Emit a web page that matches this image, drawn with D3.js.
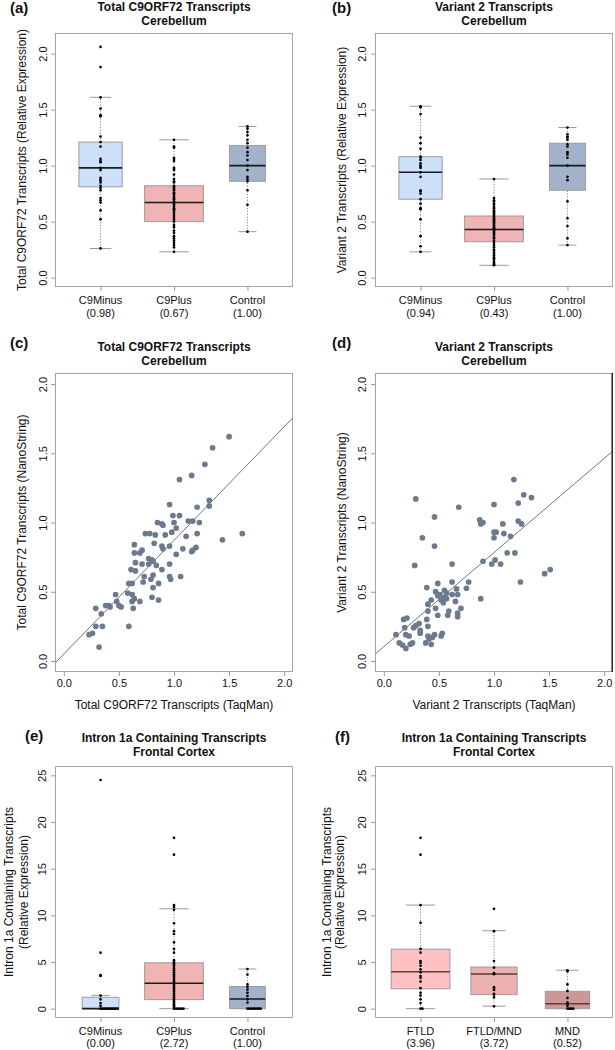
<!DOCTYPE html>
<html><head><meta charset="utf-8">
<script src="https://cdn.jsdelivr.net/npm/d3@7"></script>
<style>
body{margin:0;background:#fff}
svg{display:block}
text{font-family:"Liberation Sans",Arial,Helvetica,sans-serif;fill:#111}
</style>
</head><body>
<svg id="chart" width="615" height="1050"></svg>
<script>
// ---------------- DATA ----------------
const groupsCer = ["C9Minus", "C9Plus", "Control"];
const groupsF = ["FTLD", "FTLD/MND", "MND"];
const medianLabelsA = ["(0.98)", "(0.67)", "(1.00)"];
const medianLabelsB = ["(0.94)", "(0.43)", "(1.00)"];
const medianLabelsE = ["(0.00)", "(2.72)", "(1.00)"];
const medianLabelsF = ["(3.96)", "(3.72)", "(0.52)"];
const ticksRel = [0, 0.5, 1, 1.5, 2];
const ticksIntron = [0, 5, 10, 15, 20, 25];

// box statistics: [lower whisker, Q1, median, Q3, upper whisker]
const boxA = [[0.26, 0.81, 0.98, 1.21, 1.61], [0.23, 0.50, 0.67, 0.82, 1.23], [0.41, 0.86, 1.00, 1.18, 1.35]];
const boxB = [[0.23, 0.70, 0.94, 1.08, 1.53], [0.11, 0.32, 0.43, 0.55, 0.88], [0.29, 0.78, 1.00, 1.20, 1.34]];
const boxE = [[0, 0, 0, 1.22, 1.42], [0, 0.97, 2.72, 4.92, 10.7], [0, 0, 1.03, 2.38, 4.25]];
const boxF = [[0, 2.13, 3.96, 6.38, 11.1], [0.27, 1.5, 3.72, 4.46, 8.35], [0, 0, 0.52, 1.86, 4.12]];

// individual samples (stripchart)
const ptsA_C9Minus = [2.06, 1.88, 1.61, 1.51, 1.45, 1.44, 1.26, 1.21, 1.17, 1.06, 1.04, 1.03, 0.98, 0.96, 0.89, 0.87, 0.85, 0.82, 0.80, 0.78, 0.71, 0.69, 0.67, 0.60, 0.52, 0.26];
const ptsA_C9Plus = [1.23, 1.17, 1.16, 1.07, 1.06, 1.04, 0.98, 0.97, 0.96, 0.92, 0.88, 0.86, 0.85, 0.82, 0.81, 0.80, 0.79, 0.78, 0.76, 0.75, 0.74, 0.72, 0.71, 0.70, 0.68, 0.67, 0.66, 0.65, 0.64, 0.62, 0.61, 0.60, 0.58, 0.56, 0.54, 0.52, 0.50, 0.47, 0.45, 0.42, 0.40, 0.37, 0.35, 0.33, 0.31, 0.29, 0.27, 0.23];
const ptsA_Control = [1.35, 1.33, 1.30, 1.27, 1.23, 1.20, 1.16, 1.12, 1.09, 1.05, 1.00, 0.96, 0.90, 0.88, 0.86, 0.78, 0.65, 0.41];

const ptsB_C9Minus = [1.53, 1.52, 1.46, 1.25, 1.20, 1.15, 1.08, 1.07, 1.05, 1.02, 1.00, 0.99, 0.98, 0.94, 0.90, 0.78, 0.77, 0.75, 0.70, 0.66, 0.62, 0.61, 0.52, 0.37, 0.28, 0.23];
const ptsB_C9Plus = [0.88, 0.71, 0.69, 0.68, 0.66, 0.65, 0.63, 0.62, 0.60, 0.59, 0.58, 0.57, 0.56, 0.55, 0.54, 0.53, 0.52, 0.51, 0.50, 0.49, 0.48, 0.47, 0.46, 0.45, 0.44, 0.43, 0.42, 0.41, 0.40, 0.39, 0.38, 0.36, 0.35, 0.33, 0.31, 0.29, 0.27, 0.25, 0.24, 0.22, 0.20, 0.18, 0.17, 0.16, 0.14, 0.13, 0.12, 0.11];
const ptsB_Control = [1.34, 1.28, 1.26, 1.25, 1.23, 1.19, 1.17, 1.12, 1.10, 1.07, 1.00, 0.90, 0.87, 0.68, 0.53, 0.46, 0.35, 0.29];

const ptsE_C9Minus = [24.5, 6.0, 3.6, 3.5, 1.4, 1.0, 0.6, 0.3, 0, 0, 0, 0, 0, 0, 0, 0, 0, 0];
const ptsE_C9Plus = [18.3, 16.5, 11.1, 10.9, 10.6, 9.15, 8.3, 8.0, 7.1, 6.4, 6.0, 5.2, 5.0, 4.85, 4.7, 4.5, 4.3, 4.1, 3.9, 3.7, 3.5, 3.3, 3.1, 2.9, 2.75, 2.6, 2.4, 2.2, 2.0, 1.8, 1.6, 1.4, 1.2, 1.0, 0.8, 0.6, 0.45, 0.3, 0.2, 0.1, 0, 0, 0, 0, 0, 0];
const ptsE_Control = [4.25, 3.65, 2.6, 2.35, 2.05, 1.7, 1.35, 1.0, 0.65, 0, 0, 0, 0, 0, 0, 0, 0];

const ptsF_FTLD = [18.3, 16.5, 11.1, 9.2, 6.4, 6.0, 5.1, 4.9, 4.6, 4.2, 3.9, 3.5, 3.3, 2.9, 2.2, 1.7, 1.4, 1.0, 0.6, 0, 0];
const ptsF_FTLDMND = [10.7, 8.3, 5.1, 4.4, 3.8, 3.7, 2.3, 2.1, 2.0, 1.6, 1.5, 1.2, 0.25];
const ptsF_MND = [4.1, 4.0, 2.6, 1.9, 1.15, 0.65, 0.5, 0.3, 0, 0, 0, 0];

// scatter: [TaqMan, NanoString]
const scatterC = [[1.50,1.62],[1.35,1.54],[1.28,1.42],[1.16,1.34],[1.05,1.31],[0.96,1.13],[1.32,1.16],[1.32,1.12],[1.21,1.11],[0.99,1.05],[1.05,1.05],[0.85,1.00],[0.89,0.99],[0.90,0.98],[1.00,1.00],[1.13,1.01],[1.17,1.01],[1.23,1.00],[1.02,0.96],[0.98,0.93],[0.92,0.91],[0.74,0.92],[0.78,0.92],[0.83,0.91],[1.11,0.90],[1.21,0.92],[1.44,0.875],[1.62,0.92],[0.64,0.84],[0.82,0.85],[0.89,0.83],[0.90,0.81],[0.96,0.83],[1.08,0.81],[1.17,0.80],[1.20,0.82],[1.16,0.79],[0.71,0.80],[0.69,0.78],[0.64,0.78],[1.02,0.77],[0.77,0.74],[0.80,0.73],[0.81,0.72],[0.65,0.71],[0.71,0.70],[0.77,0.70],[0.84,0.69],[0.96,0.70],[0.61,0.66],[0.65,0.65],[0.89,0.66],[0.73,0.61],[0.81,0.62],[0.96,0.61],[0.97,0.59],[1.06,0.61],[0.79,0.59],[0.72,0.57],[0.86,0.56],[0.59,0.56],[0.62,0.56],[0.81,0.53],[0.80,0.46],[0.86,0.44],[0.58,0.49],[0.62,0.48],[0.47,0.48],[0.62,0.43],[0.64,0.45],[0.69,0.43],[0.48,0.43],[0.50,0.40],[0.52,0.39],[0.63,0.38],[0.38,0.40],[0.42,0.39],[0.41,0.40],[0.29,0.38],[0.34,0.34],[0.59,0.25],[0.35,0.25],[0.29,0.25],[0.26,0.20],[0.23,0.19],[0.32,0.10]];
const scatterD = [[1.18,1.31],[1.27,1.20],[1.34,1.18],[1.22,1.14],[1.00,1.13],[0.29,1.17],[0.68,1.11],[0.46,1.04],[0.87,1.02],[0.88,1.00],[0.90,1.00],[0.88,0.99],[1.22,1.01],[1.25,0.99],[1.08,0.99],[1.00,0.93],[1.02,0.93],[1.00,0.89],[1.09,0.92],[1.15,0.90],[0.35,0.89],[0.46,0.83],[1.12,0.78],[1.19,0.78],[0.90,0.72],[1.01,0.73],[0.98,0.70],[1.06,0.70],[0.62,0.70],[0.28,0.69],[1.51,0.66],[1.46,0.63],[1.24,0.57],[0.77,0.57],[0.62,0.57],[0.49,0.56],[0.75,0.525],[0.66,0.52],[0.39,0.53],[0.55,0.51],[0.57,0.49],[0.47,0.50],[0.62,0.48],[0.67,0.48],[0.49,0.47],[0.51,0.48],[0.55,0.46],[0.57,0.45],[0.52,0.44],[0.43,0.44],[0.65,0.43],[0.54,0.42],[0.40,0.41],[0.88,0.45],[0.70,0.38],[0.47,0.38],[0.40,0.36],[0.59,0.36],[0.67,0.345],[0.58,0.33],[0.49,0.33],[0.67,0.32],[0.39,0.30],[0.18,0.30],[0.21,0.31],[0.32,0.27],[0.29,0.255],[0.27,0.24],[0.19,0.24],[0.40,0.25],[0.33,0.22],[0.33,0.20],[0.11,0.19],[0.20,0.19],[0.23,0.18],[0.53,0.20],[0.52,0.18],[0.46,0.19],[0.40,0.18],[0.41,0.16],[0.44,0.17],[0.14,0.13],[0.17,0.115],[0.20,0.09],[0.24,0.12],[0.26,0.13],[0.38,0.13],[0.43,0.12]];
// regression lines: [intercept, slope]
const fitC = [0.05, 0.821];
const fitD = [0.103, 0.68];

// ---------------- DRAWING ----------------
const svg = d3.select("#chart");
const frameColor = "#a4a4a4";
const tickColor = "#9a9a9a";

function plainText(x, y, t, size, weight, anchor) {
  return svg.append("text").attr("x", x).attr("y", y).attr("font-size", size)
    .attr("font-weight", weight || "normal").attr("text-anchor", anchor || "start").text(t);
}
function rotText(cx, cy, t, size) {
  svg.append("text").attr("transform", `translate(${cx + 0.36 * size},${cy}) rotate(-90)`)
    .attr("text-anchor", "middle").attr("font-size", size).text(t);
}
function styleAxis(g) {
  g.select(".domain").remove();
  g.selectAll(".tick line").attr("stroke", tickColor);
  g.attr("font-family", null).attr("font-size", 11);
  g.selectAll(".tick text").attr("fill", "#111");
}
function yAxisRot(x0, y, ticks, fmt, labelCx) {
  const g = svg.append("g").attr("transform", `translate(${x0},0)`)
    .call(d3.axisLeft(y).tickValues(ticks).tickSize(4).tickFormat(fmt));
  styleAxis(g);
  g.selectAll(".tick text").attr("x", 0).attr("dy", null)
    .attr("y", -(x0 - labelCx) + 0.36 * 11).attr("text-anchor", "middle").attr("transform", "rotate(-90)");
}
function ext(lim) { const p = (lim[1] - lim[0]) * 0.04; return [lim[0] - p, lim[1] + p]; }

function stackOffsets(vals) {
  const seen = new Map();
  return vals.map(v => { const k = v.toFixed(3); const c = seen.get(k) || 0; seen.set(k, c + 1); return c; });
}

function boxPanel(L, o) {
  const x = d3.scaleLinear().domain(ext([0.5, 3.5])).range([L.x0, L.x1]);
  const y = d3.scaleLinear().domain(ext(o.ylim)).range([L.y1, L.y0]);
  const unit = x(2) - x(1);
  const nmax = d3.max(o.points, p => p.length);
  const g = svg.append("g");
  o.stats.forEach((s, i) => {
    const cx = x(i + 1);
    const w = 0.8 * Math.sqrt(o.points[i].length / nmax) * unit;
    const [lo, q1, med, q3, hi] = s;
    g.append("line").attr("x1", cx).attr("x2", cx).attr("y1", y(lo)).attr("y2", y(q1))
      .attr("stroke", "#8a8a8a").attr("stroke-dasharray", "1.2,1.6");
    g.append("line").attr("x1", cx).attr("x2", cx).attr("y1", y(q3)).attr("y2", y(hi))
      .attr("stroke", "#8a8a8a").attr("stroke-dasharray", "1.2,1.6");
    [lo, hi].forEach(v => g.append("line").attr("x1", cx - w / 4).attr("x2", cx + w / 4)
      .attr("y1", y(v)).attr("y2", y(v)).attr("stroke", "#9a9a9a"));
    g.append("rect").attr("x", cx - w / 2).attr("width", w).attr("y", y(q3)).attr("height", y(q1) - y(q3))
      .attr("fill", o.fills[i]).attr("stroke", "#9c9c9c");
    g.append("line").attr("x1", cx - w / 2).attr("x2", cx + w / 2).attr("y1", y(med)).attr("y2", y(med))
      .attr("stroke", o.medColor).attr("stroke-width", 1.6);
    const offs = stackOffsets(o.points[i]);
    g.selectAll(null).data(o.points[i]).enter().append("circle")
      .attr("cx", (d, j) => cx + offs[j] * 1.9).attr("cy", d => y(d)).attr("r", 1.35).attr("fill", "#000");
  });
  svg.append("rect").attr("x", L.x0 + 0.5).attr("y", L.y0 + 0.5).attr("width", L.x1 - L.x0 - 1).attr("height", L.y1 - L.y0 - 1)
    .attr("fill", "none").attr("stroke", frameColor);
  yAxisRot(L.x0, y, o.ticks, o.fmt, L.yTickX);
  const xg = svg.append("g").attr("transform", `translate(0,${L.y1})`)
    .call(d3.axisBottom(x).tickValues([1, 2, 3]).tickSize(4).tickFormat(""));
  styleAxis(xg);
  o.groups.forEach((gname, i) => {
    plainText(x(i + 1), L.xl[0], gname, 11, "normal", "middle");
    plainText(x(i + 1), L.xl[1], o.medLabels[i], 11, "normal", "middle");
  });
  o.ytitle.forEach((t, k) => rotText(L.ytX[k], (L.y0 + L.y1) / 2, t, 12));
  plainText(L.lab[0], L.lab[1], o.label, 15, "bold");
  o.title.forEach((t, k) => plainText((L.x0 + L.x1) / 2, L.tb[k], t, 12, "bold", "middle"));
}

function scatterPanel(L, o) {
  const x = d3.scaleLinear().domain(ext([0, 2])).range([L.x0, L.x1]);
  const y = d3.scaleLinear().domain(ext([0, 2])).range([L.y1, L.y0]);
  const id = "clip" + o.label.replace(/\W/g, "");
  svg.append("clipPath").attr("id", id).append("rect")
    .attr("x", L.x0).attr("y", L.y0).attr("width", L.x1 - L.x0).attr("height", L.y1 - L.y0);
  const g = svg.append("g").attr("clip-path", `url(#${id})`);
  const xd = x.domain();
  g.append("line").attr("x1", x(xd[0])).attr("x2", x(xd[1]))
    .attr("y1", y(o.fit[0] + o.fit[1] * xd[0])).attr("y2", y(o.fit[0] + o.fit[1] * xd[1]))
    .attr("stroke", "#666").attr("stroke-width", 0.9);
  g.selectAll(null).data(o.points).enter().append("circle")
    .attr("cx", d => x(d[0])).attr("cy", d => y(d[1])).attr("r", 2.85).attr("fill", "#6c7a8d");
  svg.append("rect").attr("x", L.x0 + 0.5).attr("y", L.y0 + 0.5).attr("width", L.x1 - L.x0 - 1).attr("height", L.y1 - L.y0 - 1)
    .attr("fill", "none").attr("stroke", frameColor);
  yAxisRot(L.x0, y, ticksRel, d3.format(".1f"), L.yTickX);
  const xg = svg.append("g").attr("transform", `translate(0,${L.y1})`)
    .call(d3.axisBottom(x).tickValues(ticksRel).tickSize(4).tickFormat(d3.format(".1f")));
  styleAxis(xg);
  xg.selectAll(".tick text").attr("dy", null).attr("y", L.xtY - L.y1);
  plainText((L.x0 + L.x1) / 2, L.xtitleY, o.xtitle, 12, "normal", "middle");
  rotText(L.ytX[0], (L.y0 + L.y1) / 2, o.ytitle, 12);
  plainText(L.lab[0], L.lab[1], o.label, 15, "bold");
  o.title.forEach((t, k) => plainText((L.x0 + L.x1) / 2, L.tb[k], t, 12, "bold", "middle"));
  if (o.darkRight) {
    svg.append("line").attr("x1", L.x1 - 0.8).attr("x2", L.x1 - 0.8).attr("y1", L.y0).attr("y2", L.y1)
      .attr("stroke", "#333").attr("stroke-width", 1.6);
  }
}

const fillsCer = ["#cce0fa", "#f0b4b4", "#a1b2ca"];
const fillsF = ["#ffc1c1", "#ebb1b1", "#cc9797"];
const fmt1 = d3.format(".1f");
const fmt0 = d3.format("d");

boxPanel({x0: 55, x1: 293, y0: 33, y1: 287, yTickX: 43, ytX: [22], xl: [304, 317], lab: [10, 13], tb: [11, 25]},
  {ylim: [0, 2.1], ticks: ticksRel, fmt: fmt1, stats: boxA, points: [ptsA_C9Minus, ptsA_C9Plus, ptsA_Control],
   fills: fillsCer, medColor: "#1a1a1a", groups: groupsCer, medLabels: medianLabelsA,
   ytitle: ["Total C9ORF72 Transcripts (Relative Expression)"], label: "(a)",
   title: ["Total C9ORF72 Transcripts", "Cerebellum"]});

boxPanel({x0: 375, x1: 613, y0: 33, y1: 287, yTickX: 362, ytX: [342], xl: [304, 317], lab: [332, 13], tb: [11, 25]},
  {ylim: [0, 2.1], ticks: ticksRel, fmt: fmt1, stats: boxB, points: [ptsB_C9Minus, ptsB_C9Plus, ptsB_Control],
   fills: fillsCer, medColor: "#1a1a1a", groups: groupsCer, medLabels: medianLabelsB,
   ytitle: ["Variant 2 Transcripts (Relative Expression)"], label: "(b)",
   title: ["Variant 2 Transcripts", "Cerebellum"]});

scatterPanel({x0: 55, x1: 293, y0: 373, y1: 672, yTickX: 43, ytX: [22], xtY: 687, xtitleY: 709, lab: [10, 348], tb: [351, 365]},
  {points: scatterC, fit: fitC, xtitle: "Total C9ORF72 Transcripts (TaqMan)", ytitle: "Total C9ORF72 Transcripts (NanoString)",
   label: "(c)", title: ["Total C9ORF72 Transcripts", "Cerebellum"]});

scatterPanel({x0: 375, x1: 613, y0: 373, y1: 672, yTickX: 362, ytX: [342], xtY: 687, xtitleY: 709, lab: [332, 348], tb: [351, 365]},
  {points: scatterD, fit: fitD, xtitle: "Variant 2 Transcripts (TaqMan)", ytitle: "Variant 2 Transcripts (NanoString)",
   label: "(d)", title: ["Variant 2 Transcripts", "Cerebellum"], darkRight: true});

boxPanel({x0: 55, x1: 293, y0: 766, y1: 1018, yTickX: 42, ytX: [9, 24], xl: [1034.5, 1047], lab: [25, 741], tb: [741.5, 755.5]},
  {ylim: [0, 25], ticks: ticksIntron, fmt: fmt0, stats: boxE, points: [ptsE_C9Minus, ptsE_C9Plus, ptsE_Control],
   fills: fillsCer, medColor: "#1a1a1a", groups: groupsCer, medLabels: medianLabelsE,
   ytitle: ["Intron 1a Containing Transcripts", "(Relative Expression)"], label: "(e)",
   title: ["Intron 1a Containing Transcripts", "Frontal Cortex"]});

boxPanel({x0: 375, x1: 613, y0: 766, y1: 1018, yTickX: 362, ytX: [327, 340], xl: [1034.5, 1047], lab: [335, 742], tb: [741.5, 755.5]},
  {ylim: [0, 25], ticks: ticksIntron, fmt: fmt0, stats: boxF, points: [ptsF_FTLD, ptsF_FTLDMND, ptsF_MND],
   fills: fillsF, medColor: "#5a3c3c", groups: groupsF, medLabels: medianLabelsF,
   ytitle: ["Intron 1a Containing Transcripts", "(Relative Expression)"], label: "(f)",
   title: ["Intron 1a Containing Transcripts", "Frontal Cortex"]});
</script>
</body></html>
